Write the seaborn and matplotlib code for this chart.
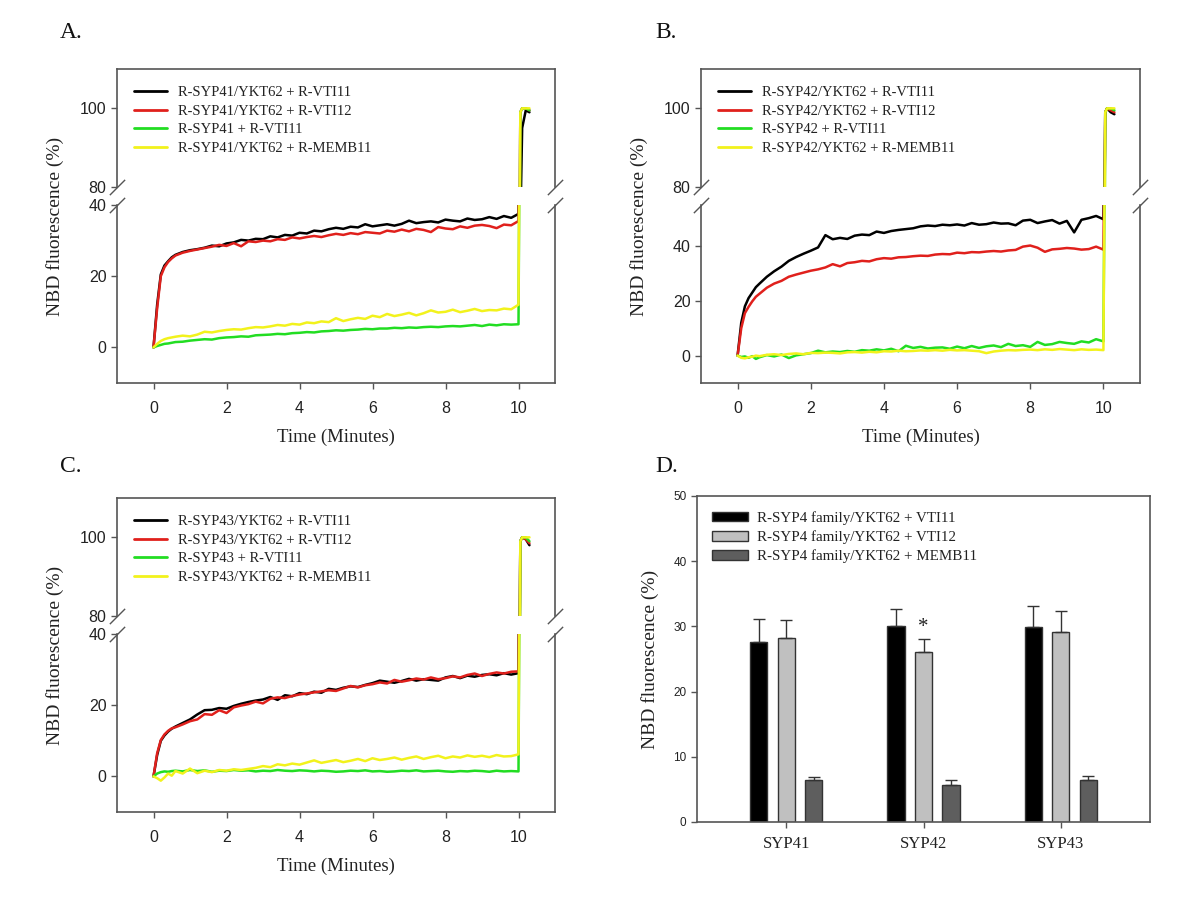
import numpy as np
import pandas as pd
import matplotlib
matplotlib.use('Agg')
import matplotlib.pyplot as plt
from matplotlib.lines import Line2D
import seaborn as sns

# ---- data ----
time_min = [0, 0.1, 0.2, 0.3, 0.4, 0.5, 0.6, 0.8,
            1.0, 1.2, 1.4, 1.6, 1.8, 2.0, 2.2, 2.4, 2.6, 2.8,
            3.0, 3.2, 3.4, 3.6, 3.8, 4.0, 4.2, 4.4, 4.6, 4.8,
            5.0, 5.2, 5.4, 5.6, 5.8, 6.0, 6.2, 6.4, 6.6, 6.8,
            7.0, 7.2, 7.4, 7.6, 7.8, 8.0, 8.2, 8.4, 8.6, 8.8,
            9.0, 9.2, 9.4, 9.6, 9.8, 10.0,
            10.05, 10.1, 10.2, 10.3]

syp41_vti11 = [0, 12, 20.5, 23, 24.2, 25.3, 26, 26.8,
               27.3, 27.6, 28.0, 28.6, 28.4, 29.2, 29.5, 30.2, 30.0, 30.5,
               30.4, 31.2, 30.9, 31.6, 31.4, 32.2, 32.0, 32.8, 32.6, 33.2,
               33.6, 33.3, 33.9, 33.7, 34.6, 34.0, 34.3, 34.6, 34.2, 34.7,
               35.6, 34.9, 35.2, 35.4, 35.1, 35.9, 35.6, 35.4, 36.2, 35.8,
               36.0, 36.6, 36.1, 36.9, 36.4, 37.5,
               70, 95, 99.5, 99]
syp41_vti12 = [0, 11, 20, 22.5, 24, 25, 25.8, 26.6,
               27.1, 27.5, 27.9, 28.3, 28.8, 28.5, 29.3, 28.4, 29.8, 29.6,
               30.0, 29.8, 30.4, 30.2, 30.9, 30.6, 31.0, 31.3, 31.0, 31.5,
               31.9, 31.6, 32.1, 31.8, 32.4, 32.2, 32.0, 32.8, 32.5, 33.1,
               32.6, 33.3, 33.0, 32.4, 33.8, 33.4, 33.2, 34.0, 33.6, 34.2,
               34.4, 34.1, 33.5, 34.5, 34.3, 35.5,
               99, 100, 100, 99.5]
syp41_only = [0, 0.4, 0.7, 1.0, 1.1, 1.3, 1.5, 1.6,
              1.9, 2.1, 2.3, 2.2, 2.6, 2.8, 2.9, 3.1, 3.0, 3.4,
              3.5, 3.6, 3.8, 3.7, 4.0, 4.1, 4.3, 4.2, 4.5, 4.6,
              4.8, 4.7, 4.9, 5.0, 5.2, 5.1, 5.3, 5.3, 5.5, 5.4,
              5.6, 5.5, 5.7, 5.8, 5.7, 5.9, 6.0, 5.9, 6.1, 6.3,
              6.0, 6.4, 6.2, 6.5, 6.4, 6.5,
              99, 100, 100, 99.5]
syp41_memb11 = [0, 1.0, 1.8, 2.3, 2.6, 2.8, 3.0, 3.3,
                3.1, 3.6, 4.4, 4.2, 4.6, 4.9, 5.1, 5.0, 5.4, 5.7,
                5.6, 5.9, 6.3, 6.1, 6.6, 6.4, 7.0, 6.8, 7.3, 7.1,
                8.2, 7.4, 7.9, 8.3, 8.0, 8.9, 8.5, 9.4, 8.8, 9.2,
                9.7, 9.0, 9.6, 10.4, 9.8, 10.0, 10.6, 9.9, 10.3, 10.8,
                10.2, 10.5, 10.4, 10.9, 10.7, 12.0,
                99, 100, 100, 100]

syp42_vti11 = [0, 12, 18, 21, 23, 25, 26.3, 28.8,
               30.8, 32.5, 34.6, 36.0, 37.2, 38.3, 39.5, 44.0, 42.5, 43.0,
               42.6, 43.8, 44.2, 44.0, 45.3, 44.8, 45.5, 45.9, 46.2, 46.5,
               47.2, 47.5, 47.3, 47.8, 47.6, 47.9, 47.5, 48.4, 47.8, 48.0,
               48.6, 48.2, 48.3, 47.6, 49.3, 49.6, 48.4, 49.0, 49.5, 48.2,
               49.2, 45.0, 49.6, 50.2, 51.0, 49.8,
               99, 100, 99, 98.5]
syp42_vti12 = [0, 10, 15.5, 17.8, 19.8, 21.5, 22.6, 24.8,
               26.3, 27.3, 28.8, 29.6, 30.3, 31.0, 31.5, 32.2, 33.4, 32.6,
               33.8, 34.1, 34.6, 34.4, 35.2, 35.6, 35.4, 35.9, 36.0, 36.3,
               36.5, 36.4, 36.9, 37.1, 37.0, 37.6, 37.4, 37.8, 37.7, 38.0,
               38.2, 38.0, 38.4, 38.6, 39.8, 40.2, 39.4, 37.9, 38.8, 39.0,
               39.3, 39.1, 38.7, 38.9, 39.8, 38.7,
               99, 100, 99.5, 99]
syp42_only = [0, -0.5, -0.3, -0.8, -0.2, -1.2, -0.6, 0.2,
              -0.3, 0.4, -0.9, 0.1, 0.5, 0.9, 1.8, 1.2, 1.5, 1.3,
              1.7, 1.4, 2.0, 1.8, 2.3, 1.9, 2.5, 1.6, 3.6, 2.8,
              3.2, 2.6, 2.9, 3.0, 2.5, 3.3, 2.7, 3.5, 2.8, 3.4,
              3.7, 3.1, 4.3, 3.5, 3.8, 3.2, 5.0, 3.9, 4.2, 5.0,
              4.6, 4.3, 5.2, 4.8, 6.0, 5.2,
              99, 100, 100, 99.5]
syp42_memb11 = [0, -0.8, -1.0, -0.6, -0.4, 0.0, -0.2, 0.3,
                0.5, 0.2, 0.6, 0.8, 0.5, 1.0, 0.9, 1.1, 1.0, 0.8,
                1.2, 1.3, 1.1, 1.4, 1.2, 1.6, 1.5, 1.8, 1.6, 1.7,
                1.9, 1.8, 2.0, 1.8, 2.1, 1.9, 2.0, 1.8, 1.6, 0.9,
                1.5, 1.8, 2.0, 1.9, 2.1, 2.2, 2.0, 2.3, 2.1, 2.4,
                2.2, 2.0, 2.3, 2.1, 2.2, 2.0,
                99, 100, 100, 100]

syp43_vti11 = [0, 6, 10, 11.5, 12.6, 13.4, 14.0, 15.0,
               16.0, 17.4, 18.6, 18.7, 19.2, 19.0, 19.8, 20.4, 20.9, 21.3,
               21.6, 22.3, 21.5, 22.8, 22.5, 23.4, 23.1, 23.8, 23.5, 24.6,
               24.3, 24.9, 25.3, 25.1, 25.7, 26.2, 26.9, 26.6, 26.3, 26.8,
               27.4, 26.9, 27.3, 27.1, 26.9, 27.8, 28.2, 27.6, 28.3, 28.0,
               28.5, 28.7, 28.4, 29.0, 28.6, 29.0,
               99, 100, 99.5, 98]
syp43_vti12 = [0, 6.5, 10.2, 11.8, 12.8, 13.5, 13.8, 14.6,
               15.5, 16.0, 17.5, 17.3, 18.6, 17.8, 19.4, 19.9, 20.3, 21.0,
               20.5, 21.8, 22.2, 22.0, 22.6, 23.0, 23.3, 23.6, 23.9, 24.2,
               24.0, 24.7, 25.4, 25.0, 25.6, 25.9, 26.4, 26.1, 27.1, 26.6,
               27.0, 27.5, 27.2, 27.8, 27.3, 27.6, 28.1, 27.8, 28.5, 28.9,
               28.2, 28.8, 29.2, 28.9, 29.4, 29.5,
               99, 100, 99.5, 98.5]
syp43_only = [0, 0.8, 1.2, 1.4, 1.3, 1.5, 1.6, 1.4,
              1.8, 1.5, 1.7, 1.3, 1.6, 1.5, 1.8, 1.6, 1.7, 1.4,
              1.6, 1.5, 1.8, 1.6, 1.5, 1.7, 1.6, 1.4, 1.6, 1.5,
              1.3, 1.4, 1.6, 1.5, 1.7, 1.4, 1.5, 1.3, 1.4, 1.6,
              1.5, 1.7, 1.4, 1.5, 1.6, 1.4, 1.3, 1.5, 1.4, 1.6,
              1.5, 1.3, 1.6, 1.4, 1.5, 1.4,
              99, 100, 100, 99]
syp43_memb11 = [0, -0.5, -1.2, -0.3, 0.8, 0.2, 1.5, 0.8,
                2.2, 0.9, 1.6, 1.2, 1.8, 1.6, 2.0, 1.8, 2.1, 2.4,
                2.9, 2.6, 3.4, 3.1, 3.6, 3.3, 3.9, 4.5, 3.8, 4.2,
                4.6, 4.0, 4.4, 4.9, 4.3, 5.1, 4.6, 4.9, 5.3, 4.7,
                5.2, 5.6, 4.9, 5.4, 5.8, 5.1, 5.6, 5.3, 5.9, 5.5,
                5.8, 5.4, 6.0, 5.6, 5.7, 6.2,
                99, 100, 100, 100]

# bar chart (panel D)
groups = ['SYP41', 'SYP42', 'SYP43']
bar_labels = ['R-SYP4 family/YKT62 + VTI11',
              'R-SYP4 family/YKT62 + VTI12',
              'R-SYP4 family/YKT62 + MEMB11']
mean_vti11 = [27.6, 30.0, 29.9]
mean_vti12 = [28.2, 26.0, 29.2]
mean_memb11 = [6.5, 5.7, 6.5]
err_vti11 = [3.5, 2.7, 3.3]
err_vti12 = [2.8, 2.0, 3.1]
err_memb11 = [0.4, 0.8, 0.6]

line_colors = ['#000000', '#e0201c', '#22dd22', '#f2f21c']
bar_colors = ['#000000', '#c0c0c0', '#5e5e5e']
SPINE = '#555555'

sns.set_style('ticks')
plt.rcParams['font.family'] = ['Liberation Sans', 'DejaVu Sans']
SERIF = ['Liberation Serif', 'DejaVu Serif']

W, H = 1200, 918
fig = plt.figure(figsize=(W / 100, H / 100), dpi=100)


def add_px_axes(x0, y0, x1, y1):
    return fig.add_axes([x0 / W, 1 - y1 / H, (x1 - x0) / W, (y1 - y0) / H])


def style_axes(ax, tick_size=11.5):
    for s in ax.spines.values():
        s.set_color(SPINE)
        s.set_linewidth(1.2)
    ax.tick_params(direction='out', length=4, width=1, color=SPINE,
                   labelsize=tick_size, labelcolor='#222222')


def broken_panel(x0, x1, y_top, y_mid1, y_mid2, y_bot, series, labels, low_top):
    ax_t = add_px_axes(x0, y_top, x1, y_mid1)
    ax_b = add_px_axes(x0, y_mid2, x1, y_bot)
    df = pd.concat([pd.DataFrame({'Time': time_min, 'NBD': v, 'Condition': lab})
                    for v, lab in zip(series, labels)], ignore_index=True)
    for ax in (ax_t, ax_b):
        sns.lineplot(data=df, x='Time', y='NBD', hue='Condition', palette=line_colors,
                     estimator=None, sort=False, legend=False, linewidth=1.8, ax=ax)
        style_axes(ax)
        ax.set_xlim(-1, 11)
        ax.set_xlabel('')
        ax.set_ylabel('')
    ax_t.set_ylim(80, 110)
    ax_t.set_yticks([80, 100])
    ax_t.spines['bottom'].set_visible(False)
    ax_t.tick_params(axis='x', bottom=False, labelbottom=False)
    ax_b.set_ylim(-10, low_top)
    ax_b.set_yticks([0, 20, 40])
    ax_b.spines['top'].set_visible(False)
    ax_b.set_xticks([0, 2, 4, 6, 8, 10])
    ax_b.tick_params(axis='x', pad=9)
    ax_b.set_xlabel('Time (Minutes)', family=SERIF, fontsize=13.5, color='#222222',
                    labelpad=9)
    # break marks
    kw = dict(marker=[(-1, -1), (1, 1)], markersize=11, linestyle='none',
              color=SPINE, mec=SPINE, mew=1, clip_on=False)
    ax_t.plot([0, 1], [0, 0], transform=ax_t.transAxes, **kw)
    ax_b.plot([0, 1], [1, 1], transform=ax_b.transAxes, **kw)
    handles = [Line2D([], [], color=c, lw=2) for c in line_colors]
    ax_t.legend(handles, labels, loc='upper left', frameon=False,
                prop={'family': SERIF, 'size': 10.5}, labelspacing=0.38,
                handlelength=2.3, handletextpad=0.7, borderaxespad=0.75,
                labelcolor='#222222')
    fig.text((x0 - 62) / W, 1 - ((y_top + y_bot) / 2) / H, 'NBD fluorescence (%)',
             rotation=90, ha='center', va='center', family=SERIF, fontsize=14,
             color='#222222')
    return ax_t, ax_b


broken_panel(117, 555, 69, 187, 205, 383,
             [syp41_vti11, syp41_vti12, syp41_only, syp41_memb11],
             ['R-SYP41/YKT62 + R-VTI11', 'R-SYP41/YKT62 + R-VTI12',
              'R-SYP41 + R-VTI11', 'R-SYP41/YKT62 + R-MEMB11'], 40)
broken_panel(701, 1140, 69, 187, 205, 383,
             [syp42_vti11, syp42_vti12, syp42_only, syp42_memb11],
             ['R-SYP42/YKT62 + R-VTI11', 'R-SYP42/YKT62 + R-VTI12',
              'R-SYP42 + R-VTI11', 'R-SYP42/YKT62 + R-MEMB11'], 55)
broken_panel(117, 555, 498, 616, 634, 812,
             [syp43_vti11, syp43_vti12, syp43_only, syp43_memb11],
             ['R-SYP43/YKT62 + R-VTI11', 'R-SYP43/YKT62 + R-VTI12',
              'R-SYP43 + R-VTI11', 'R-SYP43/YKT62 + R-MEMB11'], 40)

# ---- panel D: bars ----
axd = add_px_axes(697, 496, 1150, 822)
bars = pd.DataFrame({
    'Group': groups * 3,
    'Value': mean_vti11 + mean_vti12 + mean_memb11,
    'Condition': [bar_labels[0]] * 3 + [bar_labels[1]] * 3 + [bar_labels[2]] * 3,
})
sns.barplot(data=bars, x='Group', y='Value', hue='Condition', palette=bar_colors,
            width=0.6, gap=0.375, errorbar=None, edgecolor='#333333', linewidth=1,
            ax=axd)
for container, errs in zip(axd.containers, [err_vti11, err_vti12, err_memb11]):
    for bar, e in zip(container, errs):
        xc = bar.get_x() + bar.get_width() / 2
        axd.errorbar(xc, bar.get_height(), yerr=[[0], [e]], fmt='none',
                     ecolor='#333333', elinewidth=1, capsize=4, capthick=1)
star_bar = axd.containers[1][1]
axd.text(star_bar.get_x() + star_bar.get_width() / 2,
         star_bar.get_height() + err_vti12[1] + 1.2, '*', ha='center', va='baseline',
         family=SERIF, fontsize=15, color='#222222')
style_axes(axd, tick_size=8.5)
axd.tick_params(axis='x', pad=6)
axd.set_ylim(0, 50)
axd.set_yticks([0, 10, 20, 30, 40, 50])
axd.set_xlim(-0.65, 2.65)
axd.set_xlabel('')
axd.set_ylabel('NBD fluorescence (%)', family=SERIF, fontsize=14, color='#222222',
               labelpad=10)
for lab in axd.get_xticklabels():
    lab.set_fontfamily(SERIF)
    lab.set_fontsize(12)
axd.legend(loc='upper left', frameon=False, prop={'family': SERIF, 'size': 10.8},
           labelspacing=0.37, handlelength=2.4, handleheight=0.6,
           handletextpad=0.6, borderaxespad=0.6, labelcolor='#222222')

# panel letters
for letter, (px, py) in zip(['A.', 'B.', 'C.', 'D.'],
                            [(60, 33), (655, 33), (60, 466), (655, 466)]):
    fig.text(px / W, 1 - py / H, letter, ha='left', va='center', family=SERIF,
             fontsize=17, color='#111111')

fig.savefig('out.png', dpi=100, facecolor='white')
